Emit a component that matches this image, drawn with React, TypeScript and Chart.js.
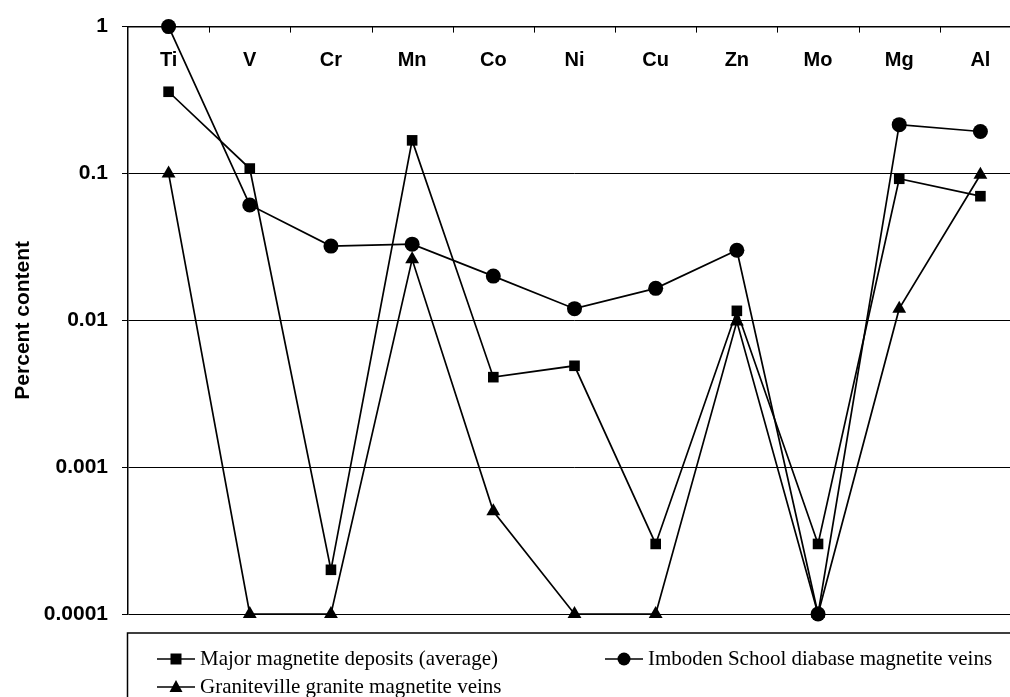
import React, { useEffect, useRef } from 'react';
import { Chart, registerables } from 'chart.js';

Chart.register(...registerables);

// element symbols along the top axis
const elements = ['Ti', 'V', 'Cr', 'Mn', 'Co', 'Ni', 'Cu', 'Zn', 'Mo', 'Mg', 'Al'];

// percent content
const majorDeposits = [0.36, 0.108, 0.0002, 0.168, 0.0041, 0.0049, 0.0003, 0.0116, 0.0003, 0.092, 0.07];
const imbodenVeins = [1, 0.061, 0.032, 0.033, 0.02, 0.012, 0.0165, 0.03, 0.0001, 0.215, 0.193];
const granitevilleVeins = [0.1, 0.0001, 0.0001, 0.026, 0.0005, 0.0001, 0.0001, 0.0098, 0.0001, 0.012, 0.098];

const yTicks = [0.0001, 0.001, 0.01, 0.1, 1];
const yTickLabels = ['0.0001', '0.001', '0.01', '0.1', '1'];

const seriesNames = [
    'Major magnetite deposits (average)',
    'Imboden School diabase magnetite veins',
    'Graniteville granite magnetite veins',
];

const sans = '"Liberation Sans", Arial, sans-serif';

// category labels sit under the top axis line, with small inward tick marks between them
const innerCategoryAxis = {
    id: 'innerCategoryAxis',
    afterDraw(chart: any) {
        const { ctx, chartArea } = chart;
        const x = chart.scales.x;
        ctx.save();
        ctx.strokeStyle = '#000';
        ctx.lineWidth = 1;
        const n = chart.data.labels.length;
        const step = (x.getPixelForValue(1) - x.getPixelForValue(0));
        for (let i = 1; i < n; i++) {
            const px = Math.round(x.getPixelForValue(i) - step / 2) + 0.5;
            ctx.beginPath();
            ctx.moveTo(px, chartArea.top);
            ctx.lineTo(px, chartArea.top + 6);
            ctx.stroke();
        }
        ctx.fillStyle = '#000';
        ctx.font = `bold 20px ${sans}`;
        ctx.textAlign = 'center';
        ctx.textBaseline = 'middle';
        chart.data.labels.forEach((lab: string, i: number) => {
            ctx.fillText(lab, x.getPixelForValue(i), chartArea.top + 34);
        });
        ctx.restore();
    },
};

// boxed legend under the plot, drawn like the old spreadsheet one
const boxLegend = {
    id: 'boxLegend',
    afterDraw(chart: any) {
        const { ctx, chartArea } = chart;
        const top = 633;
        ctx.save();
        ctx.strokeStyle = '#000';
        ctx.lineWidth = 1.5;
        ctx.strokeRect(chartArea.left - 0.5, top, chart.width, 120);

        const slots = [
            { x: 157, y: 659 },
            { x: 605, y: 659 },
            { x: 157, y: 687 },
        ];
        chart.data.datasets.forEach((ds: any, i: number) => {
            const s = slots[i];
            const cx = s.x + 19;
            ctx.strokeStyle = '#000';
            ctx.fillStyle = '#000';
            ctx.lineWidth = 1.6;
            ctx.beginPath();
            ctx.moveTo(s.x, s.y);
            ctx.lineTo(s.x + 38, s.y);
            ctx.stroke();
            ctx.beginPath();
            if (ds.pointStyle === 'rect') {
                ctx.rect(cx - 5.5, s.y - 5.5, 11, 11);
            } else if (ds.pointStyle === 'circle') {
                ctx.arc(cx, s.y, 6.5, 0, Math.PI * 2);
            } else {
                ctx.moveTo(cx, s.y - 7);
                ctx.lineTo(cx + 6.5, s.y + 5);
                ctx.lineTo(cx - 6.5, s.y + 5);
                ctx.closePath();
            }
            ctx.fill();
            ctx.font = '21px "Liberation Serif", "Times New Roman", serif';
            ctx.textBaseline = 'middle';
            ctx.textAlign = 'left';
            ctx.fillText(ds.label, s.x + 43, s.y);
        });
        ctx.restore();
    },
};

const App: React.FC = () => {
    const canvasRef = useRef<HTMLCanvasElement>(null);

    useEffect(() => {
        if (!canvasRef.current) return;

        const line = (label: string, data: number[], style: string, radius: number) => ({
            label,
            data,
            borderColor: '#000',
            backgroundColor: '#000',
            borderWidth: 1.7,
            pointStyle: style,
            pointRadius: radius,
            pointBackgroundColor: '#000',
            pointBorderColor: '#000',
            pointBorderWidth: 0,
            tension: 0,
            clip: false,
        });

        const chart = new Chart(canvasRef.current, {
            type: 'line',
            data: {
                labels: elements,
                datasets: [
                    line(seriesNames[0], majorDeposits, 'rect', 7.5),
                    line(seriesNames[1], imbodenVeins, 'circle', 7.5),
                    line(seriesNames[2], granitevilleVeins, 'triangle', 8),
                ] as any,
            },
            options: {
                responsive: true,
                maintainAspectRatio: false,
                animation: false,
                layout: { padding: { top: 0, left: 0, right: 9, bottom: 83 } },
                plugins: {
                    legend: { display: false },
                    tooltip: { enabled: false },
                },
                scales: {
                    x: {
                        type: 'category',
                        position: 'top',
                        offset: true,
                        afterFit: (scale: any) => { scale.height = 22; },
                        grid: { display: false },
                        border: { display: true, color: '#000', width: 1.5 },
                        ticks: { display: false },
                    },
                    y: {
                        type: 'logarithmic',
                        min: 0.0001,
                        max: 1,
                        afterFit: (scale: any) => { scale.width = 128; },
                        afterBuildTicks: (scale: any) => {
                            scale.ticks = yTicks.map((v) => ({ value: v }));
                        },
                        grid: {
                            color: '#000',
                            lineWidth: 1,
                            tickLength: 6,
                        },
                        border: { display: true, color: '#000', width: 1.5 },
                        ticks: {
                            padding: 14,
                            color: '#000',
                            font: { family: sans, size: 21, weight: 'bold' },
                            callback: (value: any) => {
                                const i = yTicks.indexOf(Number(value));
                                return i >= 0 ? yTickLabels[i] : '';
                            },
                        },
                        title: {
                            display: true,
                            text: 'Percent content',
                            color: '#000',
                            padding: { top: 11, bottom: 0 },
                            font: { family: sans, size: 21, weight: 'bold' },
                        },
                    },
                },
            },
            plugins: [innerCategoryAxis, boxLegend],
        });

        return () => {
            chart.destroy();
        };
    }, []);

    return (
        <div style={{ position: 'fixed', left: 0, top: 0, width: 1010, height: 697, overflow: 'hidden', background: '#fff' }}>
            <div style={{ position: 'relative', width: 1030, height: 697 }}>
                <canvas ref={canvasRef}></canvas>
            </div>
        </div>
    );
};

export default App;
